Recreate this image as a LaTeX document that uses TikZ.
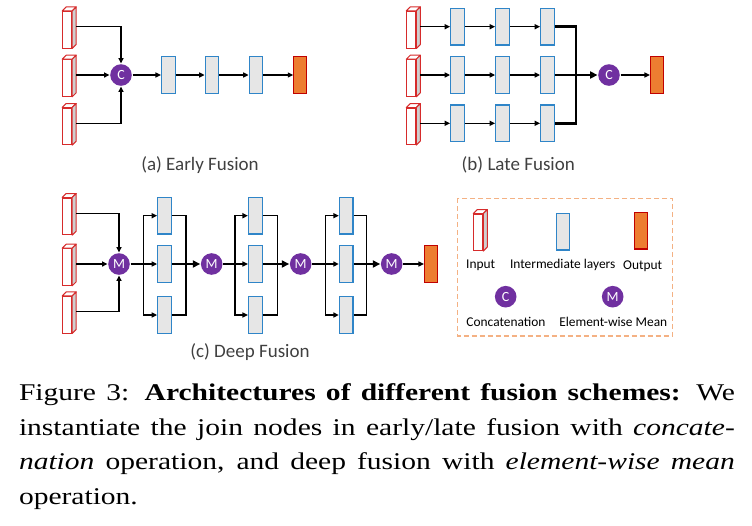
\documentclass[tikz,border=0pt]{standalone}
\usepackage{fontspec}
\setmainfont{Carlito}
\newfontfamily\capfont{Liberation Serif}
\usepackage{graphicx}
\usetikzlibrary{arrows.meta, calc}

\definecolor{inred}{HTML}{D62B2B}
\definecolor{sidegray}{HTML}{CFCFCF}
\definecolor{midblue}{HTML}{2F85C8}
\definecolor{midgray}{HTML}{E6E6E6}
\definecolor{outorange}{HTML}{ED7D31}
\definecolor{outred}{HTML}{C00000}
\definecolor{fusepurple}{HTML}{7030A0}
\definecolor{keyorange}{HTML}{F4B183}
\definecolor{labelgray}{HTML}{404040}

\tikzset{
  inp/.style={draw=inred, fill=white, line width=0.5pt, minimum width=4.5pt, minimum height=18.3pt, inner sep=0pt},
  inface/.style={draw=inred, line width=0.5pt, line join=round},
  mid/.style={draw=midblue, fill=midgray, line width=0.6pt, minimum width=6.8pt, minimum height=18.3pt, inner sep=0pt},
  outp/.style={draw=outred, fill=outorange, line width=0.6pt, minimum width=6.5pt, minimum height=18.3pt, inner sep=0pt},
  fuse/.style={circle, fill=fusepurple, minimum size=10.8pt, inner sep=0pt, text=white, font=\fontsize{7}{8}\selectfont},
  sub/.style={text=labelgray, font=\fontsize{9.5}{11}\selectfont},
  keytext/.style={font=\fontsize{6.7}{8}\selectfont, inner sep=0pt},
  capline/.style={anchor=base west, inner sep=0pt, font=\capfont\fontsize{12}{17}\selectfont},
  fat/.style={line width=1.3pt}
}
\newcommand\stretchline[1]{\scalebox{1.23}[1]{\makebox[291pt][s]{#1}}}

\begin{document}
\begin{tikzpicture}[>={Triangle[length=1.6pt 1.6, width=1.4pt 1.6]}, x=0.5pt, y=-0.5pt, line width=0.7pt]
    \useasboundingbox (0,0) rectangle (752,526);

    % (a) early fusion
    \node[inp] (a1) at (67.2,29.7) {};
    \node[inp] (a2) at (67.2,78) {};
    \node[inp] (a3) at (67.2,126.3) {};
    \node[fuse] (ca) at (121,75) {C};
    \node[mid] (e1) at (168.3,75) {};
    \node[mid] (e2) at (212,75) {};
    \node[mid] (e3) at (256,75) {};
    \node[outp] (eo) at (300.3,75) {};
    \node[sub] (la) at (200,165) {(a) Early Fusion};

    % (b) late fusion
    \node[inp] (b1) at (411.3,29.7) {};
    \node[inp] (b2) at (411.3,78) {};
    \node[inp] (b3) at (411.3,126.3) {};
    \foreach \row/\y in {1/26.7,2/75,3/123.3}
      \foreach \col/\x in {1/457.5,2/502.5,3/547.5}
        \node[mid] (l\row\col) at (\x,\y) {};
    \coordinate (lj) at (576,75);
    \node[fuse] (cb) at (609,75) {C};
    \node[outp] (lo) at (657,75) {};
    \node[sub] (lb) at (518.3,165) {(b) Late Fusion};

    % (c) deep fusion
    \node[inp] (d1) at (67.2,216.3) {};
    \node[inp] (d2) at (67.2,267) {};
    \node[inp] (d3) at (67.2,314.7) {};
    \foreach \g/\x in {1/119,2/211.7,3/300.7,4/391.7}
      \node[fuse] (m\g) at (\x,264) {M};
    \foreach \g/\x in {1/164.5,2/255.3,3/346.2}
      \foreach \row/\y in {1/215.7,2/264,3/315}
        \node[mid] (c\g\row) at (\x,\y) {};
    \foreach \g/\x in {1/143.3,2/235,3/325.7}
      \coordinate (s\g) at (\x,264);
    \foreach \g/\x in {1/186,2/277.3,3/366.7}
      \coordinate (j\g) at (\x,264);
    \node[outp] (do) at (431,264) {};
    \node[sub] (lc) at (250,352) {(c) Deep Fusion};

    % legend
    \draw[draw=keyorange, line width=0.6pt, dash pattern=on 2.5pt off 1.5pt] (457.3,198.3) rectangle (672.7,336);
    \node[inp] (k1) at (478.3,232.3) {};
    \node[mid] (k2) at (563,231.7) {};
    \node[outp] (k3) at (641.3,230.7) {};
    \node[fuse] (k4) at (505.7,296.7) {C};
    \node[fuse] (k5) at (612.7,296.7) {M};
    \node[keytext] (t1) at (480.7,265) {Input};
    \node[keytext] (t2) at (562.7,265) {Intermediate layers};
    \node[keytext] (t3) at (642.7,266) {Output};
    \node[keytext] (t4) at (506,321.7) {Concatenation};
    \node[keytext] (t5) at (613.3,321.7) {Element-wise Mean};

    % depth of the input blocks
    \foreach \n in {a1,a2,a3,b1,b2,b3,d1,d2,d3,k1} {
      \draw[inface, fill=white] (\n.north west) -- ($(\n.north west)+(4,-4)$) -- ($(\n.north east)+(4,-4)$) -- (\n.north east) -- cycle;
      \draw[inface, fill=sidegray] (\n.north east) -- ($(\n.north east)+(4,-4)$) -- ($(\n.south east)+(4,-4)$) -- (\n.south east) -- cycle;
      \coordinate (\n o) at ($(\n.east)+(4,-3)$);
    }

    % early connectors
    \draw[->] (a1o) -| (ca);
    \draw[->] (a2o) -- (ca);
    \draw[->] (a3o) -| (ca);
    \draw[->] (ca) -- (e1);
    \draw[->] (e1) -- (e2);
    \draw[->] (e2) -- (e3);
    \draw[->] (e3) -- (eo);

    % late connectors
    \foreach \row in {1,2,3} {
      \draw[->] (b\row o) -- (l\row1);
      \draw[->] (l\row1) -- (l\row2);
      \draw[->] (l\row2) -- (l\row3);
    }
    \draw[fat] (l13) -| (lj);
    \draw[fat] (l33) -| (lj);
    \draw[fat, ->] (l23) -- (cb);
    \draw[->] (cb) -- (lo);

    % deep connectors
    \draw[->] (d1o) -| (m1);
    \draw[->] (d2o) -- (m1);
    \draw[->] (d3o) -| (m1);
    \foreach \g [count=\n from 2] in {1,2,3} {
      \draw[fat] (m\g) -- (s\g);
      \draw[->] (s\g) |- (c\g1);
      \draw[->] (s\g) -- (c\g2);
      \draw[->] (s\g) |- (c\g3);
      \draw (c\g1) -| (j\g);
      \draw (c\g3) -| (j\g);
      \draw (c\g2) -- (j\g);
      \draw[fat, ->] (j\g) -- (m\n);
    }
    \draw[->] (m4) -- (do);

    % caption
    \node[capline] (cap1) at (18.3,400.7) {\stretchline{Figure 3: \textbf{Architectures of different fusion schemes:} We}};
    \node[capline] (cap2) at (18.3,435) {\stretchline{instantiate the join nodes in early/late fusion with \textit{concate-}}};
    \node[capline] (cap3) at (18.3,469.5) {\stretchline{\textit{nation} operation, and deep fusion with \textit{element-wise mean}}};
    \node[capline] (cap4) at (18.3,504) {\scalebox{1.23}[1]{operation.}};
\end{tikzpicture}
\end{document}
